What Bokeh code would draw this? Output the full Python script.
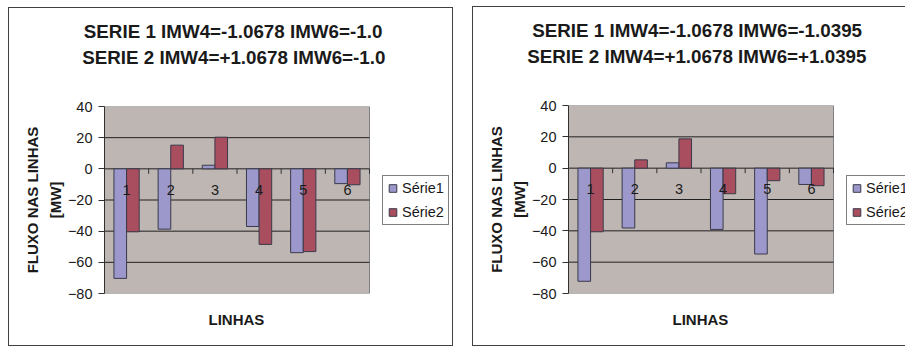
from bokeh.plotting import figure
from bokeh.layouts import row
from bokeh.models import (Range1d, FixedTicker, Title, Legend, LegendItem,
                          ColumnDataSource)
from bokeh.transform import dodge
from bokeh.core.properties import value
from bokeh.embed import file_html
from bokeh.resources import INLINE

# ---------------- data ----------------
categories = [1, 2, 3, 4, 5, 6]
cat_labels = ["1", "2", "3", "4", "5", "6"]
series_names = ["Série1", "Série2"]
y_ticks = [-80, -60, -40, -20, 0, 20, 40]

left_title = ["SERIE 1 IMW4=-1.0678 IMW6=-1.0",
              "SERIE 2 IMW4=+1.0678 IMW6=-1.0"]
left_serie1 = [-70.3, -38.7, 2.3, -37.0, -53.8, -9.5]
left_serie2 = [-40.4, 15.2, 20.3, -48.5, -53.1, -10.2]

right_title = ["SERIE 1 IMW4=-1.0678 IMW6=-1.0395",
               "SERIE 2 IMW4=+1.0678 IMW6=+1.0395"]
right_serie1 = [-72.2, -38.2, 3.4, -39.1, -54.8, -10.4]
right_serie2 = [-40.6, 5.3, 18.7, -16.3, -8.0, -11.2]

y_label = "FLUXO NAS LINHAS\n[MW]"
x_label = "LINHAS"

# ---------------- style ----------------
FONT = "Liberation Sans"
TXT = "#1a1a1a"
C1 = "#9c98cc"
C2 = "#a84e5e"
BAR_LINE = "#3a3a4a"
BG = "#beb6b2"
BOX = "#404040"
BAR_W = 1 / 3.5
AREA_L = 96        # plot area left edge in the figure canvas (px)
AREA_W = 265       # plot area width (px)
AREA_H = 188       # plot area height (px)


def make_chart(title_lines, title_offsets, s1, s2, width, height, frame_top,
               margin, shadow):
    frame_w = width - AREA_L
    x0 = categories[0] - 0.5
    x1 = categories[-1] + 0.5
    x_end = x0 + (x1 - x0) * frame_w / AREA_W

    p = figure(width=width, height=height, output_backend="svg", toolbar_location=None,
               x_range=Range1d(x0, x_end),
               y_range=Range1d(y_ticks[0], y_ticks[-1]),
               min_border_left=AREA_L, min_border_right=0,
               min_border_top=frame_top,
               min_border_bottom=height - frame_top - AREA_H,
               margin=margin, styles={"box-shadow": shadow})
    p.background_fill_alpha = 0
    p.border_fill_alpha = 0
    p.outline_line_color = None
    p.grid.visible = False
    p.xaxis.visible = False

    # plot area (grey box) and horizontal gridlines
    p.quad(left=[x0], right=[x1], bottom=[y_ticks[0]], top=[y_ticks[-1]],
           fill_color=BG, line_color="#808080", line_width=1)
    inner = y_ticks[1:-1]
    p.segment(x0=[x0] * len(inner), x1=[x1] * len(inner), y0=inner, y1=inner,
              line_color="#202020", line_width=1)

    # y axis
    yax = p.yaxis[0]
    yax.ticker = FixedTicker(ticks=y_ticks)
    yax.axis_line_color = "#303030"
    yax.major_tick_line_color = "#303030"
    yax.major_tick_out = 6
    yax.major_tick_in = 0
    yax.minor_tick_line_color = None
    yax.major_label_standoff = 6
    yax.major_label_text_font = FONT
    yax.major_label_text_font_size = "14.5px"
    yax.major_label_text_color = TXT
    yax.axis_label = y_label
    yax.axis_label_text_font = FONT
    yax.axis_label_text_font_size = "15px"
    yax.axis_label_text_font_style = "bold"
    yax.axis_label_text_color = TXT
    yax.axis_label_text_line_height = 1.33
    yax.axis_label_standoff = 1

    src = ColumnDataSource(dict(x=categories, s1=s1, s2=s2, lab=cat_labels,
                                zero=[0] * len(categories)))
    p.vbar(x=dodge("x", -BAR_W / 2), top="s1", bottom=0, width=BAR_W, source=src,
           fill_color=C1, line_color=BAR_LINE, line_width=1)
    p.vbar(x=dodge("x", BAR_W / 2), top="s2", bottom=0, width=BAR_W, source=src,
           fill_color=C2, line_color=BAR_LINE, line_width=1)

    # category axis at zero: tick marks at category boundaries + labels
    bounds = [x0] + [c + 0.5 for c in categories]
    p.ray(x=bounds, y=[0] * len(bounds), length=5, length_units="screen",
          angle=-90, angle_units="deg", line_color="#303030", line_width=1)
    p.text(x="x", y="zero", text="lab", source=src, y_offset=21,
           text_align="center", text_baseline="middle",
           text_font=value(FONT), text_font_size="14.5px", text_color=TXT)

    # legend (square markers; the legend-only renderers hold no visible point)
    nan = float("nan")
    r1 = p.scatter(x=[nan], y=[nan], marker="square", fill_color=C1, line_color=BAR_LINE)
    r2 = p.scatter(x=[nan], y=[nan], marker="square", fill_color=C2, line_color=BAR_LINE)
    leg = Legend(items=[LegendItem(label=series_names[0], renderers=[r1]),
                        LegendItem(label=series_names[1], renderers=[r2])],
                 location=(AREA_W + 13, 68), margin=0, padding=0, spacing=0,
                 glyph_width=19, glyph_height=24, label_height=24, label_width=46,
                 label_standoff=0,
                 label_text_font=FONT, label_text_font_size="14.5px",
                 label_text_color=TXT,
                 border_line_color="#000000", border_line_width=1,
                 background_fill_color="white", background_fill_alpha=1)
    p.add_layout(leg, "center")

    # chart title: spacer nearest the plot, then line 2, then line 1
    p.add_layout(Title(text=" ", text_font_size="2px", standoff=33), "above")
    p.add_layout(Title(text=title_lines[1], align="left", offset=title_offsets[1],
                       standoff=4, text_font=FONT, text_font_size="18.8px",
                       text_font_style="bold", text_color=TXT), "above")
    p.add_layout(Title(text=title_lines[0], align="left", offset=title_offsets[0],
                       standoff=2, text_font=FONT, text_font_size="18.8px",
                       text_font_style="bold", text_color=TXT), "above")

    # category axis title
    p.add_layout(Title(text=x_label, align="left", offset=104,
                       standoff=31, text_font=FONT, text_font_size="15px",
                       text_font_style="bold", text_color=TXT), "below")
    return p


p1 = make_chart(left_title, [-20.7, -22.3], left_serie1, left_serie2, 445, 339, 99,
                (7, 0, 0, 8), f"inset 0 0 0 1px {BOX}")
p2 = make_chart(right_title, [-36.3, -41.3], right_serie1, right_serie2, 433, 340, 99,
                (6, 0, 0, 19),
                f"inset 1px 0 0 {BOX}, inset 0 1px 0 {BOX}, inset 0 -1px 0 {BOX}")
layout = row(p1, p2)

open("out.html", "w").write(file_html(layout, INLINE))
